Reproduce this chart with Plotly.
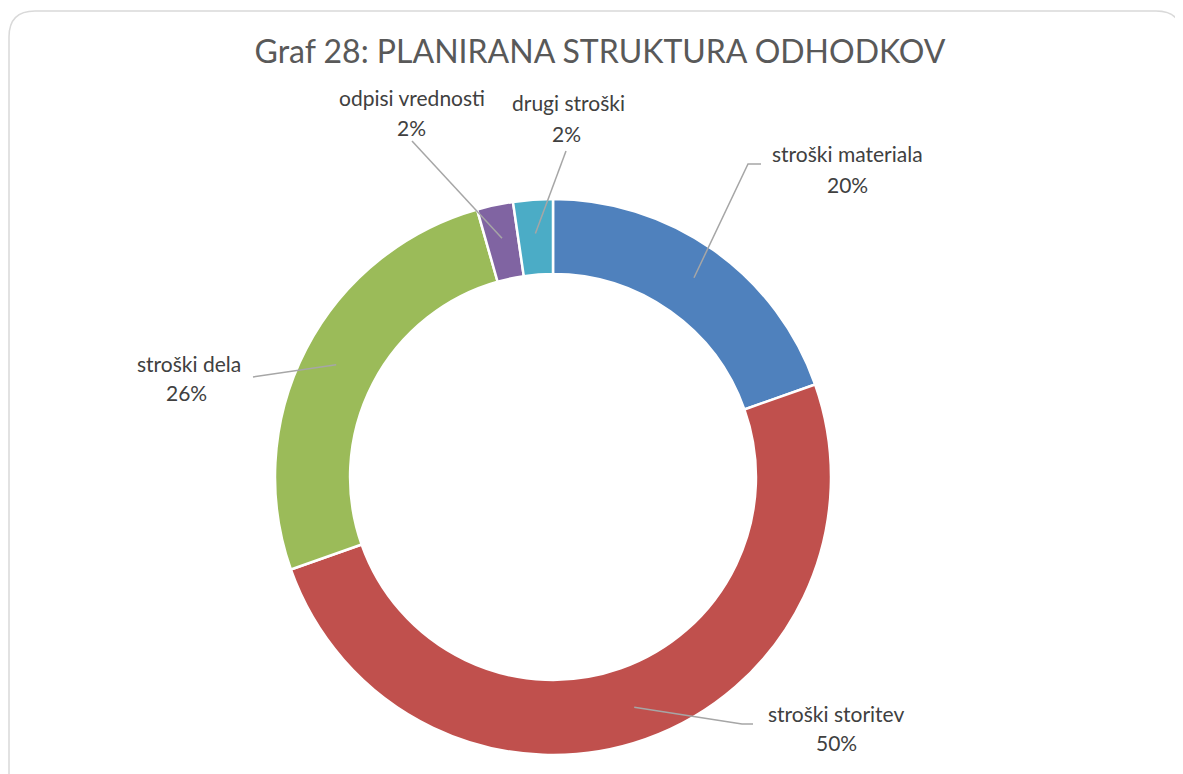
import math
import plotly.graph_objects as go

# ---- data ----
categories = ["stroški materiala", "stroški storitev", "stroški dela", "odpisi vrednosti", "drugi stroški"]
values = [19.6, 50.0, 26.0, 2.1, 2.3]
colors = ["#4F81BD", "#C0504D", "#9BBB59", "#8064A2", "#4BACC6"]
title_text = "Graf 28: PLANIRANA STRUKTURA ODHODKOV"

# ---- layout (screen pixels) ----
W, H = 1183, 774
OFF = 8  # page body margin
CX, CY, R = 553, 477, 278
HOLE = 0.73
ANCHOR_R = 0.878 * R

# label text centers (name line, percent line) and leader elbow points
label_pos = {
    "stroški materiala": ((847, 153), (847, 184), [(761, 164), (748, 164)]),
    "stroški storitev": ((836, 713), (836, 742), [(753, 724), (742, 724)]),
    "stroški dela": ((189, 363), (187, 393), [(253, 377)]),
    "odpisi vrednosti": ((412, 97), (411, 127), [(412, 141)]),
    "drugi stroški": ((568, 103), (566, 133), [(566, 151)]),
}

def px(x):
    return (x - OFF) / W

def py(y):
    return 1 - (y - OFF) / H

fig = go.Figure()
fig.add_trace(go.Pie(
    labels=categories,
    values=values,
    sort=False,
    direction="clockwise",
    rotation=0,
    hole=HOLE,
    marker=dict(colors=colors, line=dict(color="white", width=2.5)),
    textinfo="none",
    hoverinfo="label+percent",
    showlegend=False,
    domain=dict(x=[px(CX - R), px(CX + R)], y=[py(CY + R), py(CY - R)]),
))

total = sum(values)
shapes = []
annotations = []
cum = 0.0
font_lbl = dict(family="Lato, 'Open Sans', sans-serif", size=21, color="#404040")
for cat, v in zip(categories, values):
    mid = (cum + v / 2) / total * 2 * math.pi
    cum += v
    ax = CX + ANCHOR_R * math.sin(mid)
    ay = CY - ANCHOR_R * math.cos(mid)
    (nx, ny), (qx, qy), elbows = label_pos[cat]
    pts = elbows + [(ax, ay)]
    path = "M " + " L ".join(f"{px(x)},{py(y)}" for x, y in pts)
    shapes.append(dict(type="path", xref="paper", yref="paper", path=path,
                       line=dict(color="#A6A6A6", width=1.5)))
    pct = round(v / total * 100)
    annotations.append(dict(x=px(nx), y=py(ny), xref="paper", yref="paper", text=cat,
                            showarrow=False, xanchor="center", yanchor="middle", font=font_lbl))
    annotations.append(dict(x=px(qx), y=py(qy), xref="paper", yref="paper", text=f"{pct}%",
                            showarrow=False, xanchor="center", yanchor="middle", font=font_lbl))

# card border (rounded rectangle)
x0, y0, x1, y1, rr = 9, 11, 1182, 800, 26
card = (f"M {px(x0)},{py(y1)} L {px(x0)},{py(y0 + rr)} Q {px(x0)},{py(y0)} {px(x0 + rr)},{py(y0)} "
        f"L {px(x1 - rr)},{py(y0)} Q {px(x1)},{py(y0)} {px(x1)},{py(y0 + rr)} L {px(x1)},{py(y1)}")
shapes.insert(0, dict(type="path", xref="paper", yref="paper", path=card,
                      line=dict(color="#D9D9D9", width=1.5), layer="below"))

fig.update_layout(
    width=W, height=H,
    margin=dict(l=0, r=0, t=0, b=0),
    paper_bgcolor="white",
    plot_bgcolor="white",
    title=dict(text=title_text, x=px(600), y=py(52), xanchor="center", yanchor="middle",
               font=dict(family="Lato, 'Open Sans', sans-serif", size=32, color="#595959")),
    shapes=shapes,
    annotations=annotations,
)

fig.write_html("out.html")
